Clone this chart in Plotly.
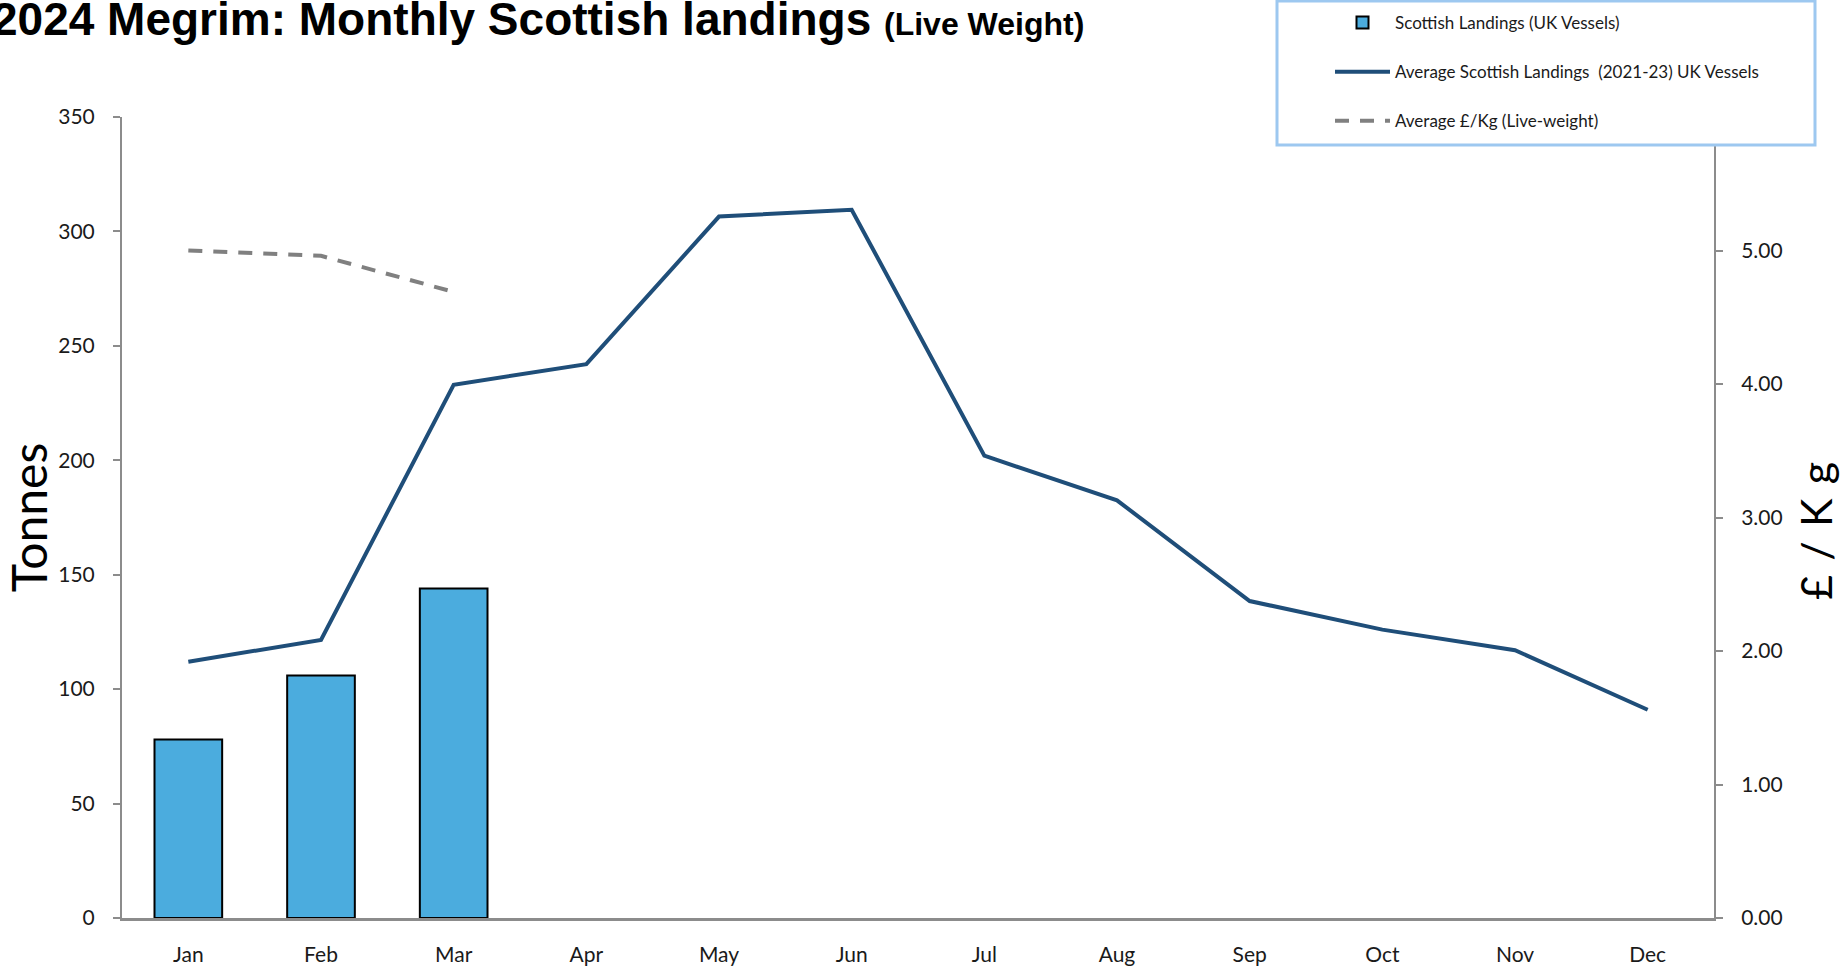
import plotly.graph_objects as go

# ---- data ----
months = ["Jan", "Feb", "Mar", "Apr", "May", "Jun", "Jul", "Aug", "Sep", "Oct", "Nov", "Dec"]
landings_2024 = [78, 106, 144]
avg_landings_2021_23 = [112, 121.5, 233, 242, 306.5, 309.5, 202, 182.5, 138.5, 126, 117, 91]
avg_price = [5.00, 4.96, 4.69]
left_ticks = [0, 50, 100, 150, 200, 250, 300, 350]
right_ticks = [0, 1, 2, 3, 4, 5]

W, H = 1848, 968
L, T, PW, PH = 122, 117, 1592, 801
R = W - L - PW
B = H - T - PH

def px_x(p):
    return (p - L) / PW

def px_y(p):
    return (H - B - p) / PH

AXIS_GREY = "#8C8C8C"
TICK_FONT = dict(family="Lato, Calibri, sans-serif", size=21, color="#1a1a1a")

fig = go.Figure()

fig.add_trace(go.Bar(
    x=months[:len(landings_2024)], y=landings_2024,
    name="Scottish Landings (UK Vessels)",
    marker=dict(color="#4BACDE", line=dict(color="#000000", width=2)),
    width=0.51, legendgroup="a",
))
fig.add_trace(go.Scatter(
    x=months, y=avg_landings_2021_23, mode="lines",
    name="Average Scottish Landings  (2021-23) UK Vessels",
    line=dict(color="#1F4E79", width=4), legendgroup="b",
))
fig.add_trace(go.Scatter(
    x=months[:len(avg_price)], y=avg_price, mode="lines", yaxis="y2",
    name="Average £/Kg (Live-weight)",
    line=dict(color="#808080", width=4, dash="14px,11px"), legendgroup="c",
))

fig.update_layout(
    width=W, height=H,
    margin=dict(l=L, r=R, t=T, b=B, autoexpand=False),
    paper_bgcolor="white", plot_bgcolor="white",
    showlegend=True,
    xaxis=dict(
        type="category", categoryorder="array", categoryarray=months,
        range=[-0.5, 11.5], showgrid=False, zeroline=False,
        showline=True, linecolor=AXIS_GREY, linewidth=3,
        ticks="", tickfont=TICK_FONT, ticklabelstandoff=16,
    ),
    yaxis=dict(
        range=[0, 350], tickvals=left_ticks, showgrid=False, zeroline=False,
        showline=True, linecolor=AXIS_GREY, linewidth=2,
        ticks="outside", ticklen=7, tickcolor=AXIS_GREY, tickwidth=2,
        tickfont=TICK_FONT, ticklabelstandoff=14,
        title=dict(text="Tonnes", font=dict(family="Lato, Calibri, sans-serif", size=48, color="#000000"), standoff=20),
    ),
    yaxis2=dict(
        overlaying="y", side="right", range=[0, 6], tickvals=right_ticks,
        ticktext=[f"{v:.2f}" for v in right_ticks],
        showgrid=False, zeroline=False,
        showline=True, linecolor=AXIS_GREY, linewidth=2,
        ticks="outside", ticklen=7, tickcolor=AXIS_GREY, tickwidth=2,
        tickfont=TICK_FONT, ticklabelstandoff=14,
    ),
    legend=dict(
        x=px_x(1330), y=px_y(5), xanchor="left", yanchor="top",
        bgcolor="rgba(0,0,0,0)", borderwidth=0,
        font=dict(family="Lato, Calibri, sans-serif", size=17, color="#1a1a1a"),
        tracegroupgap=24, itemwidth=55, traceorder="grouped",
    ),
    shapes=[dict(
        type="rect", xref="paper", yref="paper",
        x0=px_x(1277), x1=px_x(1815), y0=px_y(145), y1=px_y(1),
        line=dict(color="#9DC8F0", width=3), fillcolor="white", layer="above",
    )],
    annotations=[
        dict(
            xref="paper", yref="paper", x=px_x(-10), y=px_y(19),
            xanchor="left", yanchor="middle", showarrow=False,
            text="<b>2024 Megrim: Monthly Scottish landings <span style='font-size:32px'>(Live Weight)</span></b>",
            font=dict(family="Liberation Sans, Arial, sans-serif", size=46, color="#000000"),
        ),
        dict(
            xref="paper", yref="paper", x=px_x(1815), y=px_y(531),
            xanchor="center", yanchor="middle", showarrow=False, textangle=-90,
            text="£\u2004/\u2004K\u2004g",
            font=dict(family="Lato, Calibri, sans-serif", size=43, color="#000000"),
        ),
    ],
)

fig.write_html("out.html", config={"displayModeBar": False},
               post_script="document.body.style.margin='0';")
